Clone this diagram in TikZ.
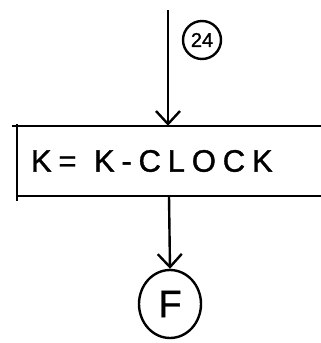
\documentclass[tikz,border=0pt]{standalone}
\usepackage{fontspec}
\setmainfont{Liberation Sans}
\newfontfamily\lblfont[LetterSpace=22,FakeBold=1.2]{Liberation Sans}
\newfontfamily\handfont[FakeBold=1.2]{Liberation Sans}
\usetikzlibrary{arrows.meta,shapes.geometric}
\begin{document}
\begin{tikzpicture}[x=1pt,y=-1pt,
  ln/.style={line width=2.4pt},
  arr/.style={ln,-{Straight Barb[length=13pt,width=24pt,line width=2.4pt]}},
  boxnode/.style={minimum width=304pt,minimum height=70pt,inner xsep=14pt,
    text width=276pt,align=left,font=\fontsize{31}{34}\lblfont},
  conn/.style={draw,ln,circle,minimum size=38pt,inner sep=0pt,font=\fontsize{20}{22}\handfont},
  term/.style={draw,ln,ellipse,minimum width=62pt,minimum height=68pt,inner sep=0pt,font=\fontsize{38}{40}\handfont}]
\useasboundingbox (0,0) rectangle (321,343);
\coordinate (start) at (168,10);
\node[boxnode] (box) at (169,161) {K=\hspace{7pt} K-CLOCK};
\node[conn] (c24) at (202,40) {24};
\node[term] (F) at (170,304) {F};
\draw[ln] ([xshift=-5pt]box.north west) -- (box.north east);
\draw[ln] ([yshift=2pt]box.north west) -- ([yshift=-5pt]box.south west);
\draw[ln] (box.south west) -- (box.south east);
\draw[arr] (start) -- (start |- box.north);
\draw[arr] (box.south) -- (F.north);
\end{tikzpicture}
\end{document}
